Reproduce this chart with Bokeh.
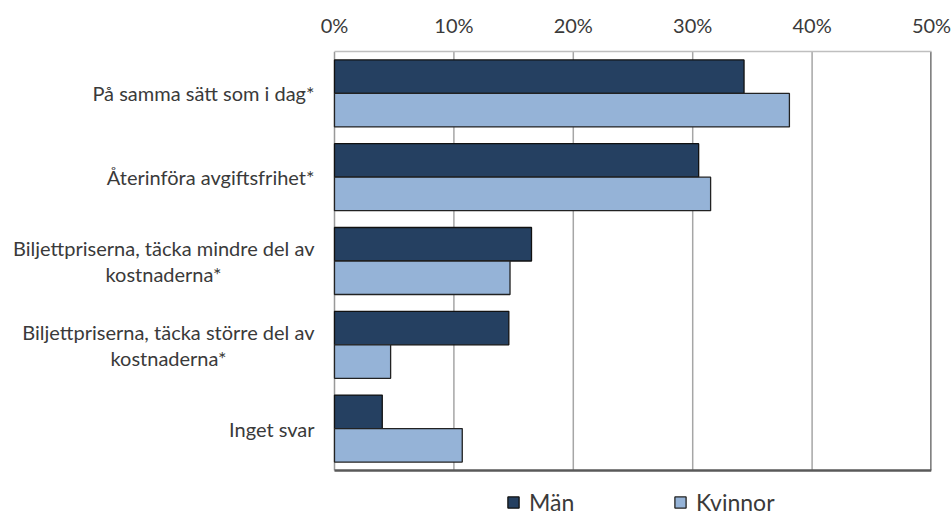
from bokeh.plotting import figure
from bokeh.models import Range1d, FixedTicker, PrintfTickFormatter, Legend, LegendItem
from bokeh.embed import file_html
from bokeh.resources import INLINE

# ---- data ----
categories = ["På samma sätt som i dag*",
              "Återinföra avgiftsfrihet*",
              "Biljettpriserna, täcka mindre del av\nkostnaderna*",
              "Biljettpriserna, täcka större del av\nkostnaderna*",
              "Inget svar"]
series_names = ["Män", "Kvinnor"]
men = [34.3, 30.5, 16.5, 14.6, 4.0]
women = [38.1, 31.5, 14.7, 4.7, 10.7]
x_ticks = [0, 10, 20, 30, 40, 50]

# ---- style / layout ----
FONT = "Lato"
TEXT_COLOR = "#3a3a3a"
MEN_COLOR = "#254061"
WOMEN_COLOR = "#95B3D7"
W, H = 952, 517
PLOT_LEFT, PLOT_RIGHT, PLOT_TOP, PLOT_BOTTOM = 334, 931, 51, 470

n = len(categories)
xmax = x_ticks[-1]
px_per_x = (PLOT_RIGHT - PLOT_LEFT) / xmax
px_per_cat = (PLOT_BOTTOM - PLOT_TOP) / n
x_start = -PLOT_LEFT / px_per_x
y_bottom = n - 0.5 + (H - PLOT_BOTTOM) / px_per_cat

p = figure(width=W, height=H, output_backend="svg", toolbar_location=None,
           x_range=Range1d(x_start, xmax), y_range=Range1d(y_bottom, -0.5),
           x_axis_location="above", y_axis_location=None,
           min_border_left=0, min_border_right=W - PLOT_RIGHT,
           min_border_top=PLOT_TOP, min_border_bottom=0)
p.outline_line_color = None
p.background_fill_color = "white"
p.border_fill_color = "white"
p.xgrid.grid_line_color = None
p.ygrid.grid_line_color = None

idx = list(range(n))
top_edge = [-0.5]
bottom_edge = [n - 0.5]

# gridlines (inner)
grid_x = x_ticks[1:-1]
p.segment(x0=grid_x, x1=grid_x, y0=top_edge * len(grid_x), y1=bottom_edge * len(grid_x),
          line_color="#a6a6a6", line_width=1.5)
# left axis line
p.segment(x0=[x_ticks[0]], x1=[x_ticks[0]], y0=top_edge, y1=bottom_edge,
          line_color="#999999", line_width=1.5)

bar_h = 0.4
men_y = [i - bar_h / 2 for i in idx]
women_y = [i + bar_h / 2 for i in idx]
r_men = p.hbar(y=men_y, right=men, left=0, height=bar_h, fill_color=MEN_COLOR,
               line_color="#111111", line_width=1.3)
r_women = p.hbar(y=women_y, right=women, left=0, height=bar_h, fill_color=WOMEN_COLOR,
                 line_color="#222222", line_width=1.3)

# right and bottom borders (dark)
p.segment(x0=[xmax], x1=[xmax], y0=top_edge, y1=bottom_edge, line_color="#595959", line_width=2.5)
p.segment(x0=[x_ticks[0]], x1=[xmax], y0=bottom_edge, y1=bottom_edge, line_color="#595959", line_width=2.5)

# x axis (top)
xa = p.xaxis[0]
xa.bounds = (x_ticks[0], xmax)
xa.ticker = FixedTicker(ticks=x_ticks)
xa.formatter = PrintfTickFormatter(format="%d%%")
xa.major_tick_out = 0
xa.major_tick_in = 0
xa.minor_tick_out = 0
xa.minor_tick_in = 0
xa.axis_line_color = "#bfbfbf"
xa.axis_line_width = 1.5
xa.major_label_text_font = FONT
xa.major_label_text_font_size = "20px"
xa.major_label_text_color = TEXT_COLOR
xa.major_label_standoff = 15

# category labels (text glyphs anchored at x=0)
line_off = 0.155
first_lines = [c.split("\n")[0] for c in categories]
second_lines = [c.split("\n")[1] if "\n" in c else "" for c in categories]
two = ["\n" in c for c in categories]
y1 = [i - line_off if t else i for i, t in zip(idx, two)]
y2 = [i + line_off for i in idx]
center_offsets = [-171, -171, -171, -166, -171]
p.text(x=[0] * n, y=y1, text=first_lines, x_offset=-20, text_align="right",
       text_baseline="middle", text_font={"value": FONT}, text_font_size="20px",
       text_color=TEXT_COLOR)
p.text(x=[0] * n, y=y2, text=second_lines, x_offset=center_offsets, text_align="center",
       text_baseline="middle", text_font={"value": FONT}, text_font_size="20px",
       text_color=TEXT_COLOR)

# legends (one per item for exact placement)
for r, name, loc in [(r_men, series_names[0], (506, 1)), (r_women, series_names[1], (673, 1))]:
    lg = Legend(items=[LegendItem(label=name, renderers=[r])], location=loc,
                orientation="horizontal", glyph_width=14, glyph_height=14,
                label_standoff=9, padding=0, margin=0, border_line_color=None,
                background_fill_alpha=0, label_text_font=FONT, label_text_font_size="23px",
                label_text_color=TEXT_COLOR)
    p.add_layout(lg, "center")

open("out.html", "w").write(file_html(p, INLINE))
